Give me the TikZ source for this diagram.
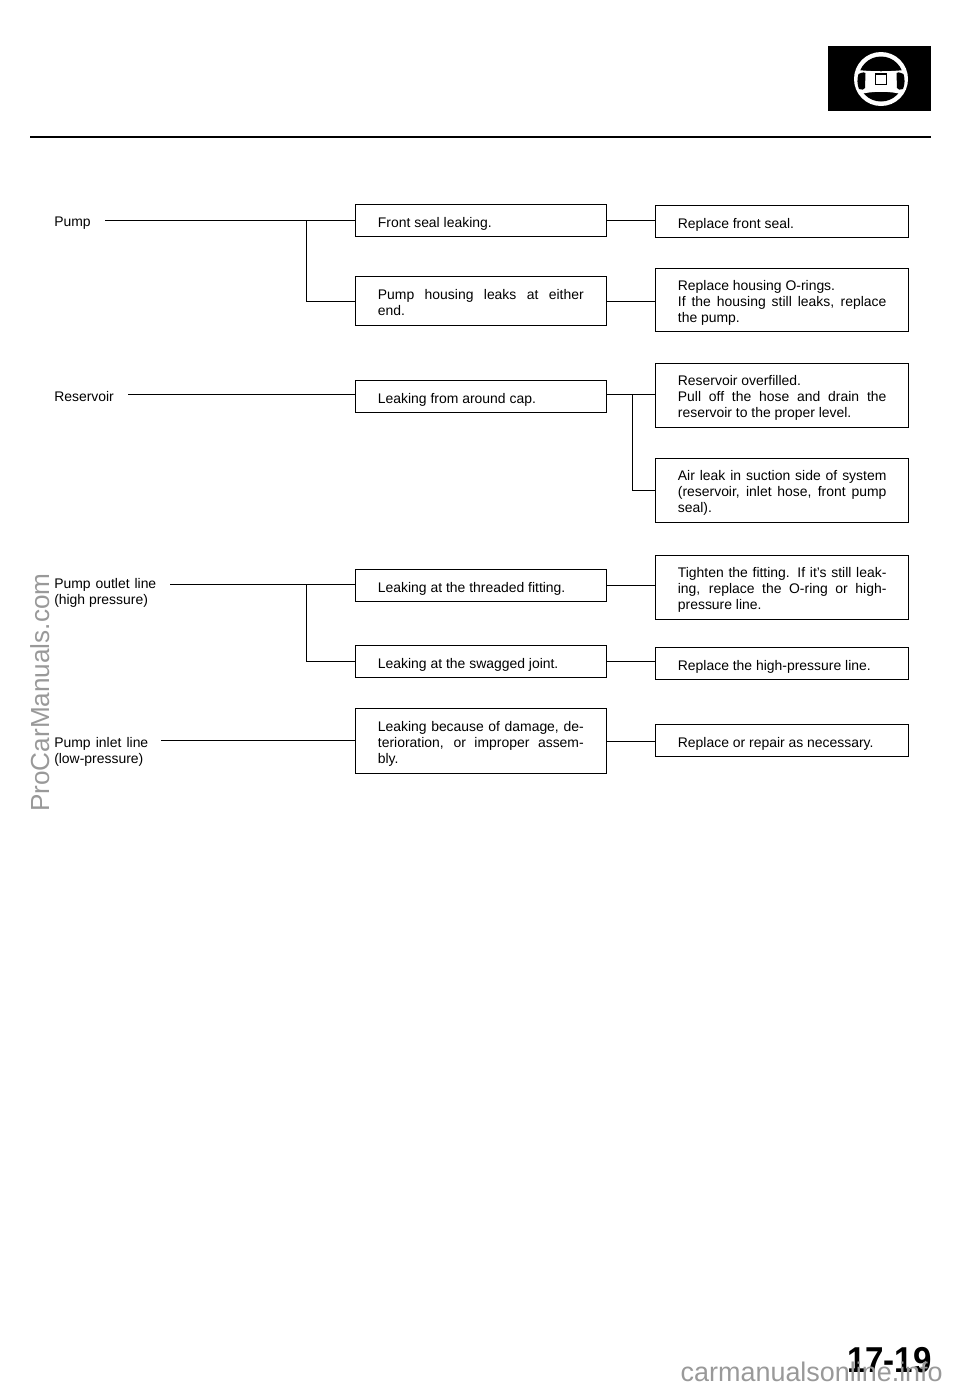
\documentclass[tikz,border=0pt]{standalone}
\usepackage{fontspec}
\setmainfont{Liberation Sans}
\usetikzlibrary{positioning}
\definecolor{markgray}{gray}{0.6}
\tikzset{
  fault/.style={draw, line width=.75pt, rectangle, anchor=north west, align=justify, inner xsep=16.8pt, inner ysep=0pt, text height=10pt, text depth=0pt, font=\fontsize{10.45}{12}\selectfont, text width=154.4pt},
  fix/.style={fault, text width=156.4pt},
  twolines/.style={text depth=12.9pt},
  threelines/.style={text depth=24.4pt},
  part/.style={anchor=west, align=left, inner sep=0pt, font=\fontsize{10.45}{12}\selectfont},
  link/.style={line width=.75pt},
  markup/.style={text=markgray, inner sep=0pt}
}
\begin{document}
\begin{tikzpicture}[x=.75pt, y=-.75pt]
\useasboundingbox (0,0) rectangle (960,1390);
% left column
\node[part] (pump) at (54,223) {Pump};
\node[part] (reservoir) at (54,397) {Reservoir};
\node[part] (outlet) at (54,593) {\makebox[76.5pt][s]{Pump outlet line}\\(high pressure)};
\node[part] (inlet) at (54,752) {\makebox[70.5pt][s]{Pump inlet line}\\(low-pressure)};
\coordinate (pumpend) at (105,220);
\coordinate (reservoirend) at (128,394);
\coordinate (outletend) at (170,584);
\coordinate (inletend) at (161,740);
% middle column
\node[fault, minimum height=24pt] (front) at (355,204) {Front seal leaking.};
\node[fault, twolines, minimum height=37pt] (housing) at (355,276) {Pump housing leaks at either\linebreak end.};
\node[fault, minimum height=24pt] (cap) at (355,380) {Leaking from around cap.};
\node[fault, minimum height=24pt] (threaded) at (355,569) {Leaking at the threaded fitting.};
\node[fault, minimum height=24pt] (swagged) at (355,645) {Leaking at the swagged joint.};
\node[fault, threelines, minimum height=48.75pt] (damage) at (355,708) {Leaking because of damage, de-\linebreak terioration, or improper assem-\linebreak bly.};
% right column
\node[fix, minimum height=24pt] (seal) at (655,205) {Replace front seal.};
\node[fix, threelines, minimum height=47pt] (orings) at (655,268) {Replace housing O-rings.\\If the housing still leaks, replace\linebreak the pump.};
\node[fix, threelines, minimum height=48pt] (overfill) at (655,363) {Reservoir overfilled.\\Pull off the hose and drain the\linebreak reservoir to the proper level.};
\node[fix, threelines, minimum height=48pt] (airleak) at (655,458) {Air leak in suction side of system\linebreak (reservoir, inlet hose, front pump\linebreak seal).};
\node[fix, threelines, minimum height=48pt] (tighten) at (655,555) {Tighten the fitting. If it's still leak-\linebreak ing, replace the O-ring or high-\linebreak pressure line.};
\node[fix, minimum height=24pt] (highline) at (655,647) {Replace the high-pressure line.};
\node[fix, minimum height=24pt] (repair) at (655,724) {Replace or repair as necessary.};
% connectors
\draw[link] (pumpend) -- (pumpend -| front.west);
\draw[link] (reservoirend) -- (reservoirend -| cap.west);
\draw[link] (outletend) -- (outletend -| threaded.west);
\draw[link] (inletend) -- (inletend -| damage.west);
\coordinate (pumpfork) at (306,220);
\coordinate (outletfork) at (306,584);
\coordinate (capfork) at (632,394);
\draw[link] (pumpfork) |- (housing.west);
\draw[link] (outletfork) |- (swagged.west);
\draw[link] (capfork) |- (airleak.west);
\draw[link] (front.east) -- (front.east -| seal.west);
\draw[link] (housing.east) -- (housing.east -| orings.west);
\draw[link] (cap.east |- capfork) -- (capfork -| overfill.west);
\draw[link] (threaded.east) -- (threaded.east -| tighten.west);
\draw[link] (swagged.east) -- (swagged.east -| highline.west);
\draw[link] (damage.east) -- (damage.east -| repair.west);
% header rule and wheel badge
\draw[line width=1.7pt] (30,137) -- (931,137);
\fill (828,46) rectangle (931,111);
\fill[white] (881,79) circle[radius=27];
\fill (881,79) circle[radius=22.5];
\begin{scope}
\clip (881,79) circle[radius=24];
\fill[white] (850,69) .. controls (870,72) and (892,72) .. (912,69) -- (912,97) .. controls (892,90) and (870,90) .. (850,97) -- cycle;
\end{scope}
\fill (858.5,74) .. controls (863,72) and (865,72) .. (865.5,73) -- (865,88) .. controls (864,90) and (862,90) .. (859,89) .. controls (857,84) and (857,79) .. (858.5,74) -- cycle;
\fill (903.5,74) .. controls (899,72) and (897,72) .. (896.5,73) -- (897,88) .. controls (898,90) and (900,90) .. (903,89) .. controls (905,84) and (905,79) .. (903.5,74) -- cycle;
\draw[fill=white, line width=1pt] (875.5,74) rectangle (886.5,84.5);
% page number and marks
\node[anchor=base east, inner sep=0pt, xscale=.92, transform shape, font=\fontsize{27}{27}\bfseries\selectfont] (page) at (932,1372) {17-19};
\node[markup, rotate=90, anchor=base west, font=\fontsize{19.6}{20}\selectfont] (sidemark) at (50,812) {ProCarManuals.com};
\node[markup, anchor=base east, font=\fontsize{20.2}{20}\selectfont] (footmark) at (943,1381) {carmanualsonline.info};
\end{tikzpicture}
\end{document}
